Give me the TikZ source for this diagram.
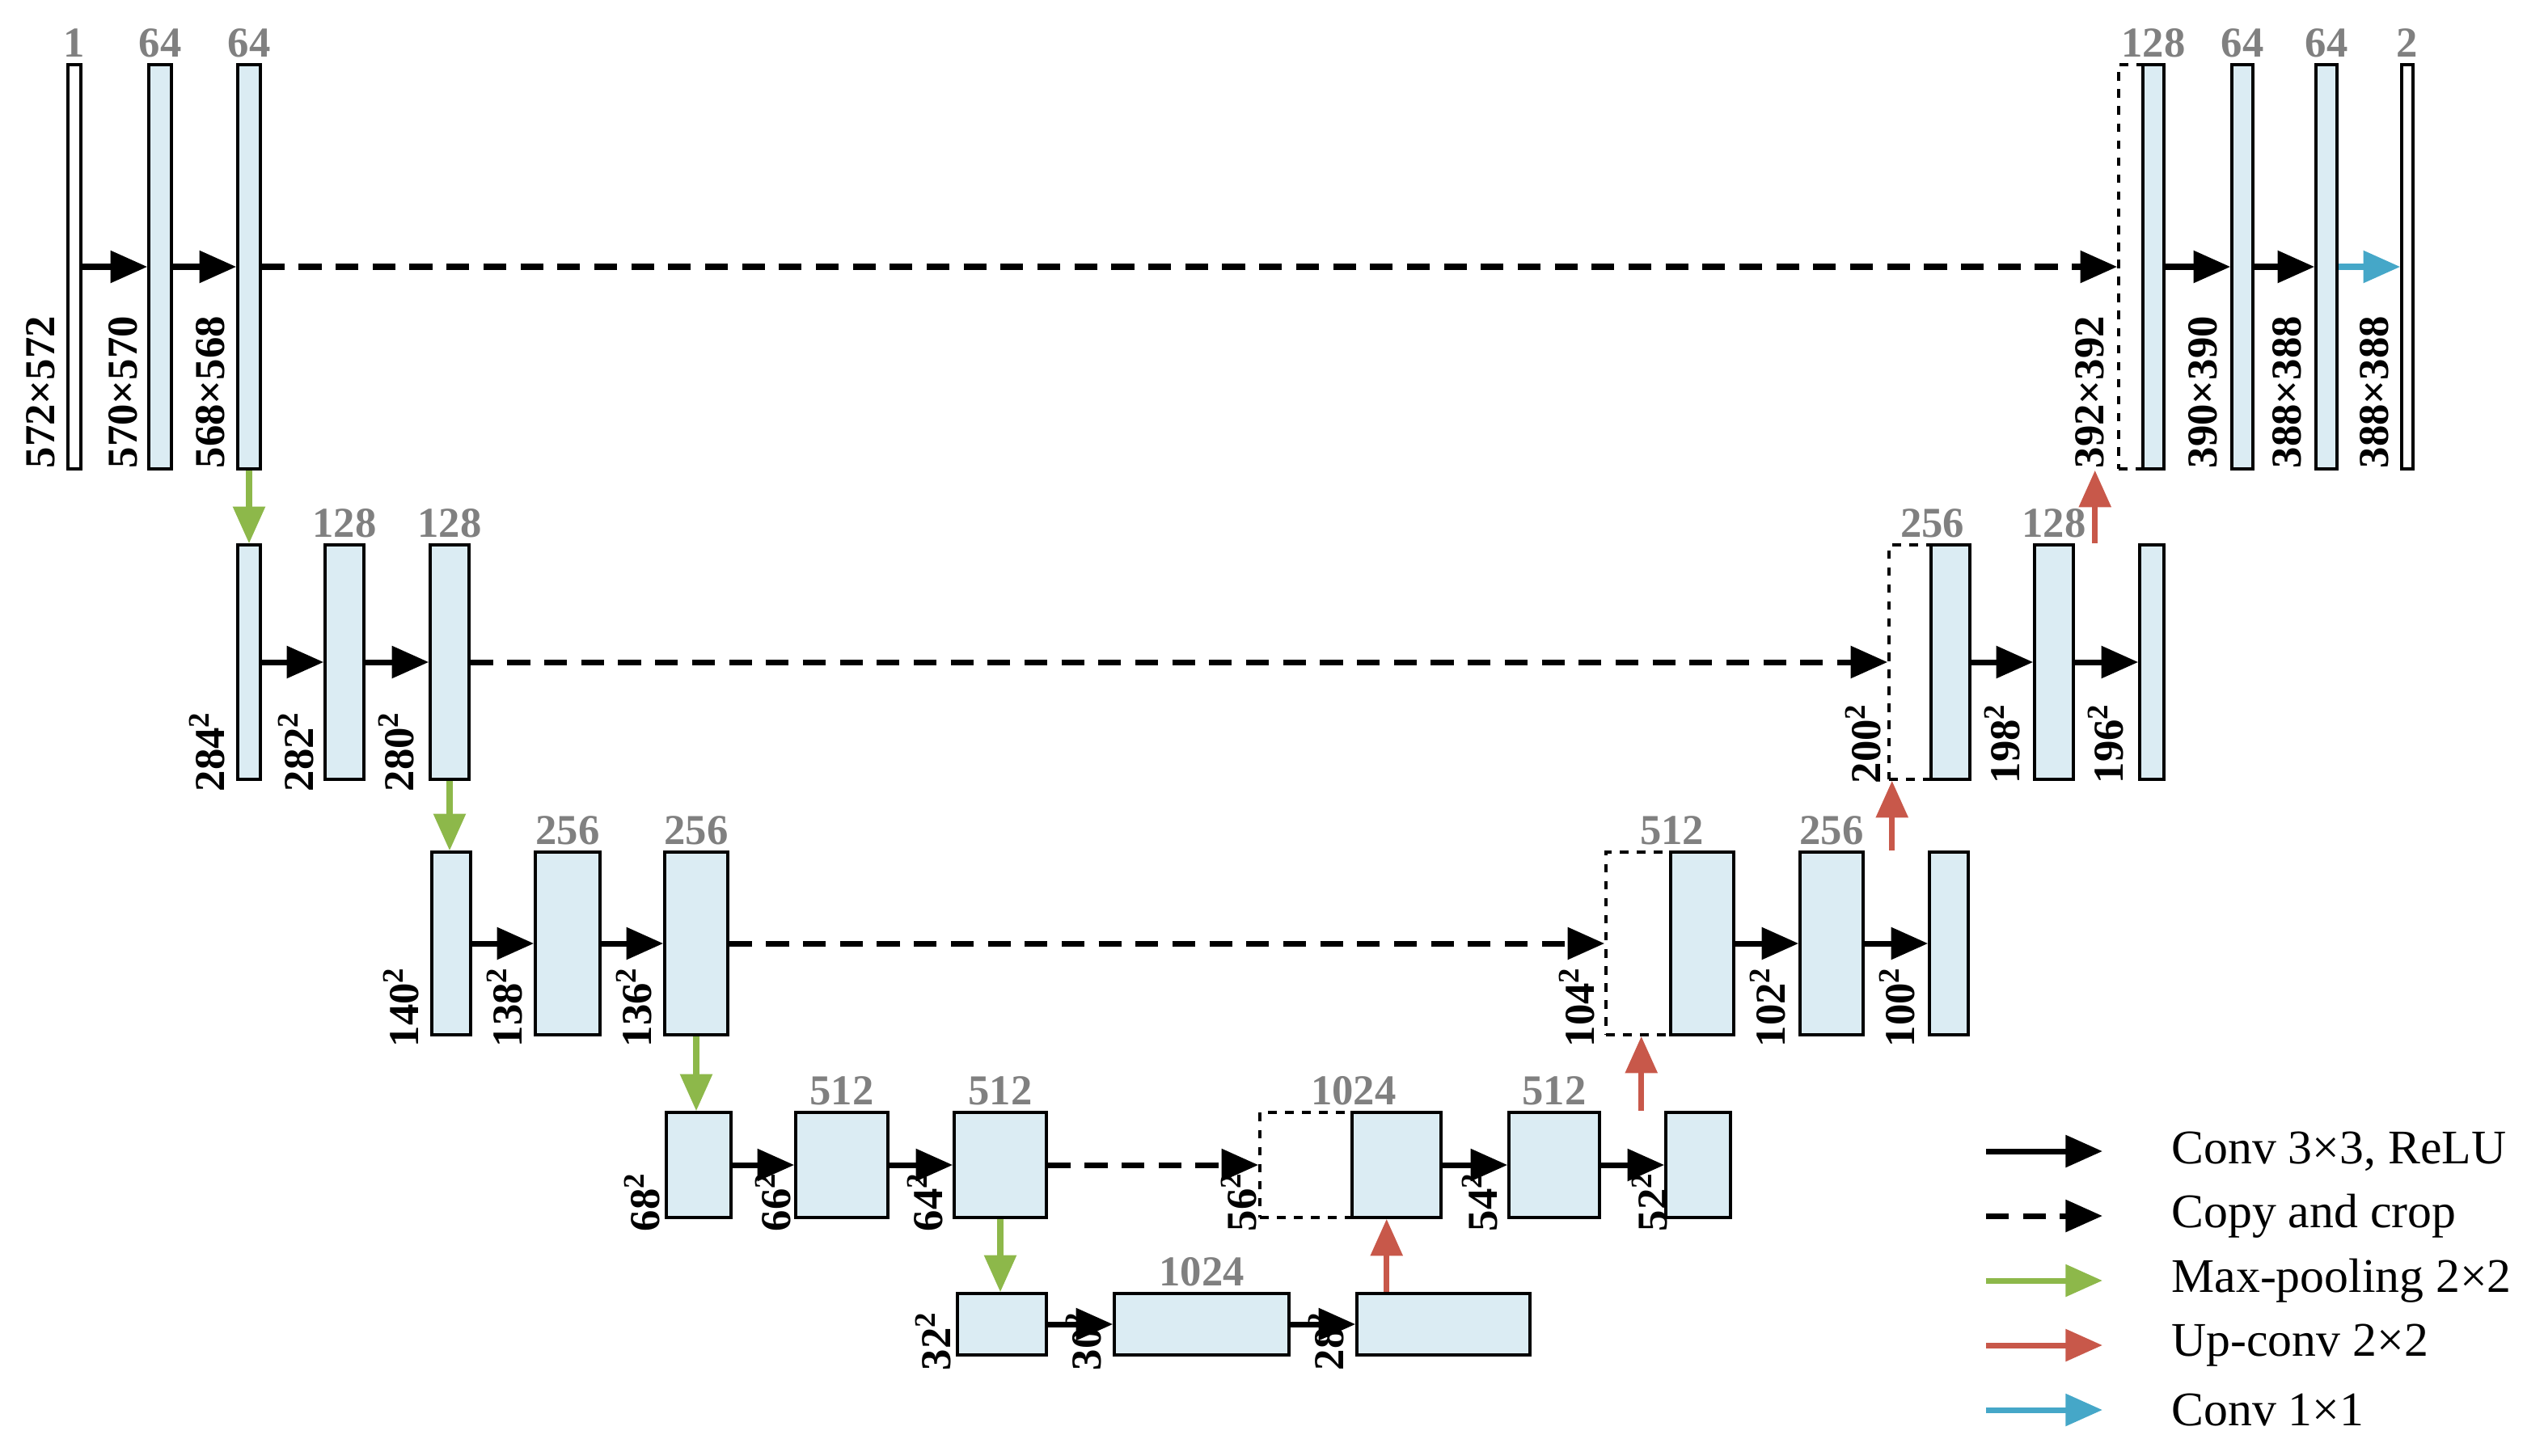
\documentclass[tikz,border=0pt]{standalone}
\usepackage{fontspec}
\setmainfont{Liberation Serif}
\usetikzlibrary{arrows.meta,positioning}
\definecolor{boxblue}{RGB}{219,236,243}
\definecolor{poolgreen}{RGB}{141,184,74}
\definecolor{upred}{RGB}{200,88,74}
\definecolor{onecyan}{RGB}{69,167,200}
\tikzset{
  box/.style={rectangle,draw,line width=1pt,inner sep=0pt,fill=boxblue},
  cropbox/.style={rectangle,draw,dashed,line width=1pt,inner sep=0pt},
  conv/.style={line width=2pt,-{Triangle[length=13pt,width=11pt]}},
  copy/.style={conv,dash pattern=on 8pt off 5pt},
  pool/.style={line width=2pt,poolgreen,-{Triangle[length=13pt,width=11pt]}},
  up/.style={pool,upred},
  one/.style={pool,onecyan},
  ch/.style={text=gray,font=\fontsize{15}{15}\selectfont\bfseries,inner sep=1pt},
  sz/.style={rotate=90,anchor=west,inner sep=0pt,font=\fontsize{15}{15}\selectfont\bfseries},
  leg/.style={anchor=west,font=\fontsize{17}{17}\selectfont}
}
\newcommand\blk[6]{\node[#6,minimum width={(#3-#2)*0.02cm},minimum height={(#5-#4)*0.02cm}] (#1) at ({(#2+#3)/2},{(#4+#5)/2}) {};}
\newcommand\sq[3]{\node[sz] (#1) at (#2,#3) {#1$^{\mathbf{2}}$};}

\begin{document}
\begin{tikzpicture}[x=0.02cm,y=-0.02cm]
\useasboundingbox (0,0) rectangle (1573,900);

% level 1
\blk{e11}{42}{50}{40}{290}{box,fill=white}
\blk{e12}{92}{106}{40}{290}{box}
\blk{e13}{147}{161}{40}{290}{box}
\blk{c1}{1310}{1325}{40}{290}{cropbox}
\blk{d11}{1325}{1338}{40}{290}{box}
\blk{d12}{1380}{1393}{40}{290}{box}
\blk{d13}{1432}{1445}{40}{290}{box}
\blk{d14}{1485}{1492}{40}{290}{box,fill=white}
\node[ch,above=1pt of e11] {1};
\node[ch,above=1pt of e12] {64};
\node[ch,above=1pt of e13] {64};
\node[ch,above=1pt of d11] {128};
\node[ch,above=1pt of d12] {64};
\node[ch,above=1pt of d13] {64};
\node[ch,above=1pt of d14] {2};
\node[sz] at (25,290) {572×572};
\node[sz] at (76,290) {570×570};
\node[sz] at (130,290) {568×568};
\node[sz] at (1292,290) {392×392};
\node[sz] at (1362,290) {390×390};
\node[sz] at (1414,290) {388×388};
\node[sz] at (1468,290) {388×388};

% level 2
\blk{e21}{147}{161}{337}{482}{box}
\blk{e22}{201}{225}{337}{482}{box}
\blk{e23}{266}{290}{337}{482}{box}
\blk{c2}{1168}{1194}{337}{482}{cropbox}
\blk{d21}{1194}{1218}{337}{482}{box}
\blk{d22}{1258}{1282}{337}{482}{box}
\blk{d23}{1323}{1338}{337}{482}{box}
\node[ch,above=1pt of e22] {128};
\node[ch,above=1pt of e23] {128};
\node[ch,above=1pt of c2.north east] {256};
\node[ch,above=1pt of d22] {128};
\sq{284}{128}{490}
\sq{282}{183}{490}
\sq{280}{245}{490}
\sq{200}{1152}{485}
\sq{198}{1238}{485}
\sq{196}{1302}{485}

% level 3
\blk{e31}{267}{291}{527}{640}{box}
\blk{e32}{331}{371}{527}{640}{box}
\blk{e33}{411}{450}{527}{640}{box}
\blk{c3}{993}{1033}{527}{640}{cropbox}
\blk{d31}{1033}{1072}{527}{640}{box}
\blk{d32}{1113}{1152}{527}{640}{box}
\blk{d33}{1193}{1217}{527}{640}{box}
\node[ch,above=1pt of e32] {256};
\node[ch,above=1pt of e33] {256};
\node[ch,above=1pt of c3.north east] {512};
\node[ch,above=1pt of d32] {256};
\sq{140}{248}{648}
\sq{138}{312}{648}
\sq{136}{392}{648}
\sq{104}{975}{648}
\sq{102}{1093}{648}
\sq{100}{1173}{648}

% level 4
\blk{e41}{412}{452}{688}{753}{box}
\blk{e42}{492}{549}{688}{753}{box}
\blk{e43}{590}{647}{688}{753}{box}
\blk{c4}{779}{836}{688}{753}{cropbox}
\blk{d41}{836}{891}{688}{753}{box}
\blk{d42}{933}{989}{688}{753}{box}
\blk{d43}{1030}{1070}{688}{753}{box}
\node[ch,above=1pt of e42] {512};
\node[ch,above=1pt of e43] {512};
\node[ch,above=1pt of c4.north east] {1024};
\node[ch,above=1pt of d42] {512};
\sq{68}{397}{762}
\sq{66}{478}{762}
\sq{64}{572}{762}
\sq{56}{766}{762}
\sq{54}{915}{762}
\sq{52}{1020}{762}

% level 5
\blk{e51}{592}{647}{800}{838}{box}
\blk{e52}{689}{797}{800}{838}{box}
\blk{e53}{839}{946}{800}{838}{box}
\node[ch,above=1pt of e52] {1024};
\sq{32}{577}{848}
\sq{30}{670}{848}
\sq{28}{820}{848}

% conv arrows
\foreach \a/\b in {e11/e12,e12/e13,d11/d12,d12/d13,e21/e22,e22/e23,d21/d22,d22/d23,
  e31/e32,e32/e33,d31/d32,d32/d33,e41/e42,e42/e43,d41/d42,d42/d43,e51/e52,e52/e53}
  \draw[conv] (\a) -- (\b);
\draw[one] (d13) -- (d14);

% copy and crop
\foreach \a/\b in {e13/c1,e23/c2,e33/c3,e43/c4}
  \draw[copy] (\a) -- (\b.west);

% pooling and up-conv
\foreach \a/\b in {e13/e21,e23/e31,e33/e41,e43/e51}
  \draw[pool] (\a.south) -- (\a.south |- \b.north);
\foreach \a/\b in {e53/d41,d43/d31,d33/d21,d23/d11}
  \draw[up] ([xshift=-20pt]\a.north) -- ([xshift=-20pt]\a.north |- \b.south);

% legend
\coordinate (l1) at (1228,712);
\coordinate (l2) at (1228,752);
\coordinate (l3) at (1228,792);
\coordinate (l4) at (1228,832);
\coordinate (l5) at (1228,872);
\draw[conv] (l1) -- ++(72,0) node[leg,black,xshift=20pt] {Conv 3×3, ReLU};
\draw[copy] (l2) -- ++(72,0) node[leg,black,xshift=20pt] {Copy and crop};
\draw[pool] (l3) -- ++(72,0) node[leg,black,xshift=20pt] {Max-pooling 2×2};
\draw[up] (l4) -- ++(72,0) node[leg,black,xshift=20pt] {Up-conv 2×2};
\draw[one] (l5) -- ++(72,0) node[leg,black,xshift=20pt] {Conv 1×1};
\end{tikzpicture}
\end{document}
